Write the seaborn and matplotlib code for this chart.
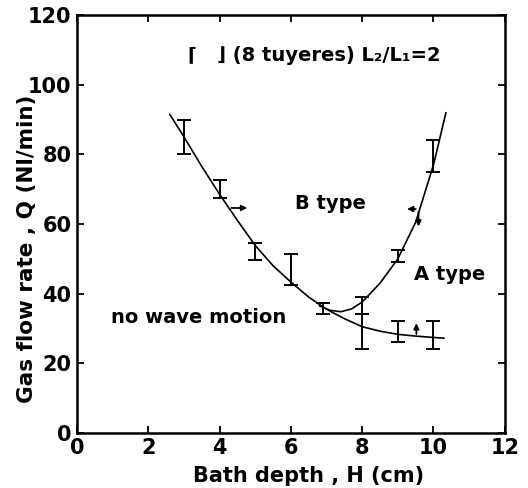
import matplotlib
matplotlib.use("Agg")
import matplotlib.pyplot as plt
import seaborn as sns
import pandas as pd

# ---- data ----
lower_x = [2.6, 3.0, 3.5, 4.0, 4.5, 5.0, 5.5, 6.0, 6.5, 7.0, 7.5, 8.0, 8.5, 9.0, 9.5, 10.0, 10.3]
lower_y = [91.5, 85.0, 76.5, 68.5, 61.0, 53.8, 48.0, 43.3, 39.0, 35.5, 32.8, 30.5, 29.2, 28.3, 27.8, 27.4, 27.2]
upper_x = [6.8, 7.1, 7.4, 7.7, 8.0, 8.5, 9.0, 9.5, 10.0, 10.35]
upper_y = [36.5, 35.2, 34.8, 35.6, 37.6, 43.0, 50.0, 60.5, 77.0, 92.0]

err_x = [3, 4, 5, 6, 6.9, 8, 8, 9, 9, 10, 10]
err_lo = [80.0, 67.5, 49.7, 42.5, 34.2, 34.0, 24.0, 49.0, 26.0, 75.0, 24.0]
err_hi = [90.0, 72.5, 54.6, 51.4, 37.4, 39.0, 34.0, 52.5, 32.0, 84.0, 32.0]

x_ticks = [0, 2, 4, 6, 8, 10, 12]
y_ticks = [0, 20, 40, 60, 80, 100, 120]

sns.set_style("ticks", {"axes.edgecolor": "black", "text.color": "black",
                        "axes.labelcolor": "black", "xtick.color": "black",
                        "ytick.color": "black"})
plt.rcParams['font.family'] = ['DejaVu Sans']

fig = plt.figure(figsize=(5.28, 4.88), dpi=100)
ax = fig.add_axes([0.146, 0.113, 0.810, 0.856])

lw = 1.2
sns.lineplot(data=pd.DataFrame({"x": lower_x, "y": lower_y}), x="x", y="y",
             ax=ax, color="black", lw=lw, sort=False, estimator=None)
sns.lineplot(data=pd.DataFrame({"x": upper_x, "y": upper_y}), x="x", y="y",
             ax=ax, color="black", lw=lw, sort=False, estimator=None)

mid = [(l + h) / 2 for l, h in zip(err_lo, err_hi)]
yerr = [[m - l for m, l in zip(mid, err_lo)], [h - m for m, h in zip(mid, err_hi)]]
ax.errorbar(err_x, mid, yerr=yerr, fmt="none", ecolor="black", elinewidth=1.4,
            capsize=5, capthick=1.4)

# arrows
ap = dict(arrowstyle="-|>", color="black", lw=1.3, mutation_scale=8)
ax.annotate("", xy=(4.85, 64.6), xytext=(4.25, 64.6), arrowprops=ap)
ax.annotate("", xy=(9.18, 64.3), xytext=(9.58, 64.3), arrowprops=ap)
ax.annotate("", xy=(9.58, 58.5), xytext=(9.58, 64.3), arrowprops=ap)
ax.annotate("", xy=(9.52, 32.3), xytext=(9.52, 27.6), arrowprops=ap)

tkw = dict(fontsize=14, fontweight="bold", color="black")
ax.text(7.1, 66, "B type", ha="center", va="center", **tkw)
ax.text(10.45, 45.4, "A type", ha="center", va="center", **tkw)
ax.text(3.4, 33, "no wave motion", ha="center", va="center", **tkw)
ax.text(3.1, 108.5, "⌈   ⌋ (8 tuyeres) L₂/L₁=2", ha="left", va="center",
        fontsize=14, fontweight="bold", color="black")

ax.set_xlim(0, 12)
ax.set_ylim(0, 120)
ax.set_xticks(x_ticks)
ax.set_yticks(y_ticks)
ax.tick_params(direction="in", length=5, width=1.3, top=True, right=True,
               labelsize=15, pad=4, colors="black")
for lab in ax.get_xticklabels() + ax.get_yticklabels():
    lab.set_fontweight("bold")
for s in ax.spines.values():
    s.set_linewidth(1.8)
    s.set_color("black")
    s.set_visible(True)
ax.set_xlabel("Bath depth , H (cm)", fontsize=15, fontweight="bold", color="black")
ax.set_ylabel("Gas flow rate , Q (Nl/min)", fontsize=15.5, fontweight="bold", color="black")
ax.xaxis.label.set_va("baseline")
ax.xaxis.set_label_coords(0.542, -0.117)
ax.yaxis.set_label_coords(-0.093, 0.44)

fig.savefig("out.png", dpi=100)
